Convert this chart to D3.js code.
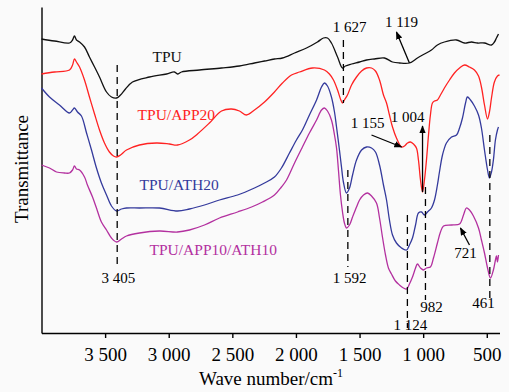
<!DOCTYPE html>
<html>
<head>
<meta charset="utf-8">
<script src="https://cdn.jsdelivr.net/npm/d3@7"></script>
<style>
  body { margin: 0; background: #fafafa; }
  text { font-family: "Liberation Serif", "Times New Roman", serif; }
</style>
</head>
<body>
<script>
// FTIR spectra, [wavenumber (cm-1), transmittance (a.u.)]
var tpu = [[4000,294],[3898,292],[3780,290],[3756,293],[3741,297],[3725,293],[3701,291],[3662,286],[3623,276],
  [3583,266],[3544,256],[3489,241],[3450,236],[3410,235],[3379,238],[3340,244],[3285,251],[3151,256],[3017,259],
  [2955,261],[2931,259],[2900,261],[2758,263],[2585,265],[2444,267],[2326,270],[2247,272],[2169,274],[2106,275],
  [2011,280],[1917,285],[1831,291],[1784,295],[1752,295],[1721,290],[1673,276],[1634,265],[1611,267],[1563,269],
  [1500,271],[1445,273],[1383,274],[1304,275],[1241,271],[1186,270],[1108,270],[1045,275],[990,279],[935,283],
  [888,288],[833,291],[738,293],[675,290],[620,291],[573,290],[518,290],[463,288],[440,291],[424,295],[408,299]];

var app20 = [[4000,259],[3898,261],[3780,263],[3756,268],[3741,274],[3725,271],[3701,266],[3662,253],[3623,236],
  [3583,219],[3544,203],[3505,190],[3466,181],[3434,177],[3410,176],[3379,178],[3332,183],[3230,188],[3096,190],
  [2994,189],[2931,188],[2837,193],[2774,199],[2680,210],[2585,222],[2507,224],[2444,222],[2389,218],[2326,223],
  [2247,231],[2169,241],[2106,250],[2035,258],[1972,261],[1870,265],[1776,263],[1737,259],[1705,253],[1673,243],
  [1650,234],[1634,230],[1619,233],[1595,238],[1563,248],[1524,256],[1484,262],[1445,265],[1406,265],[1375,262],
  [1343,253],[1312,238],[1288,230],[1265,218],[1241,206],[1210,195],[1170,186],[1147,187],[1123,190],[1100,191],
  [1076,189],[1053,185],[1037,173],[1021,153],[1005,141],[990,153],[974,173],[958,198],[943,218],[927,230],
  [911,232],[888,233],[864,238],[833,245],[793,253],[754,260],[714,265],[675,268],[636,266],[597,263],[565,257],
  [542,246],[518,228],[494,214],[479,221],[463,235],[440,251],[416,257],[400,258]];

var ath20 = [[4000,245],[3937,236],[3859,228],[3780,220],[3756,223],[3741,225],[3717,221],[3686,217],[3646,200],
  [3607,183],[3568,165],[3529,150],[3489,138],[3450,127],[3410,122],[3371,124],[3332,125],[3230,125],[3073,125],
  [2931,122],[2837,124],[2719,128],[2601,133],[2459,138],[2326,145],[2247,150],[2169,156],[2114,165],[2051,180],
  [1996,193],[1949,203],[1894,218],[1838,233],[1799,246],[1776,250],[1752,247],[1721,236],[1697,221],[1681,206],
  [1658,183],[1642,166],[1627,151],[1603,140],[1579,145],[1555,158],[1524,173],[1484,183],[1445,186],[1406,185],
  [1375,181],[1343,168],[1312,148],[1288,133],[1265,113],[1241,98],[1210,90],[1170,85],[1131,83],[1108,88],
  [1084,95],[1060,108],[1037,120],[1013,121],[990,118],[966,121],[935,125],[911,133],[888,148],[872,161],
  [848,178],[817,190],[777,196],[738,198],[714,205],[691,215],[667,230],[652,236],[628,233],[597,227],[565,218],
  [542,205],[518,183],[494,163],[479,155],[463,161],[448,173],[432,193],[416,203],[408,206]];

var app10ath10 = [[4000,168],[3937,165],[3882,161],[3820,160],[3780,160],[3756,163],[3741,167],[3725,164],[3701,163],
  [3662,156],[3639,148],[3599,136],[3568,125],[3529,111],[3489,103],[3450,95],[3410,91],[3371,94],[3332,97],
  [3230,100],[3073,102],[2931,101],[2837,103],[2719,108],[2601,115],[2459,121],[2349,126],[2263,131],[2169,138],
  [2114,146],[2074,153],[2011,170],[1949,186],[1894,200],[1838,213],[1799,223],[1776,225],[1752,222],[1721,213],
  [1697,198],[1681,185],[1666,163],[1650,138],[1634,121],[1619,110],[1603,105],[1579,108],[1555,116],[1524,126],
  [1500,133],[1469,138],[1437,140],[1406,137],[1367,130],[1343,115],[1320,96],[1296,78],[1273,65],[1249,59],
  [1218,52],[1186,48],[1155,45],[1131,44],[1108,49],[1084,56],[1060,65],[1045,69],[1021,65],[998,63],[974,65],
  [943,66],[919,75],[888,90],[864,101],[840,107],[777,108],[714,109],[683,118],[660,125],[636,123],[605,117],
  [565,105],[542,93],[518,80],[494,65],[471,55],[448,63],[432,73],[424,77],[416,71],[408,78]];

var seriesNames = ["TPU", "TPU/APP20", "TPU/ATH20", "TPU/APP10/ATH10"];
var xTicks = [3500, 3000, 2500, 2000, 1500, 1000, 500];

// dashed peak markers: wavenumber, label, top and bottom (a.u.)
var peakWave  = [3405, 1627, 1592, 1124, 982, 476];
var peakLabel = ["3 405", "1 627", "1 592", "1 124", "982", "461"];
var peakTop   = [268, 293, 163, 118, 146, 198];
var peakBot   = [65, 230, 66, 5, 33, 33];

// arrow markers: label, [from], [to]
var arrowLabel = ["1 119", "1 155", "1 004", "721"];
var arrowFrom  = [[1108,270], [1406,198], [1005,141], [636,88]];
var arrowTo    = [[1210,301], [1170,186], [1005,207], [707,105]];

var width = 509, height = 392;
var svg = d3.select("body").append("svg")
    .attr("width", width)
    .attr("height", height);

svg.append("rect").attr("width", width).attr("height", height).attr("fill", "#fafafa");

var x = d3.scaleLinear().domain([4000, 400]).range([41.5, 499.5]);
var y = d3.scaleLinear().domain([0, 326]).range([333, 7]);

var colors = d3.scaleOrdinal()
    .domain(seriesNames)
    .range(["#111111", "#ff2222", "#343a9c", "#b3309f"]);

var fmt = d3.formatLocale({decimal: ".", thousands: " ", grouping: [3], currency: ["", ""]}).format(",");

// axes
var xAxis = svg.append("g")
    .attr("transform", "translate(0,333)")
    .call(d3.axisBottom(x).tickValues(xTicks).tickFormat(fmt).tickSize(5).tickPadding(10).tickSizeOuter(0));
xAxis.selectAll("path, line").attr("stroke", "#000").attr("stroke-width", 1.4);
xAxis.selectAll("text").attr("font-size", "19px").attr("fill", "#000")
    .style("font-family", "'Liberation Serif', serif");

var yAxis = svg.append("g")
    .attr("transform", "translate(41.5,0)")
    .call(d3.axisLeft(y).tickValues([]).tickSizeOuter(0));
yAxis.select("path").attr("stroke", "#000").attr("stroke-width", 1.4);

// spectra
var line = d3.line()
    .x(function(d) { return x(d[0]); })
    .y(function(d) { return y(d[1]); })
    .curve(d3.curveCatmullRom.alpha(0.5));

var allSeries = [tpu, app20, ath20, app10ath10];
svg.append("g").selectAll("path")
    .data(allSeries)
    .enter()
    .append("path")
    .attr("d", line)
    .attr("fill", "none")
    .attr("stroke", function(d, i) { return colors(seriesNames[i]); })
    .attr("stroke-width", 1.3);

// series labels
var labelPos = [[3128,271], [3245,213], [3230,143], [3151,78]];
svg.append("g").selectAll("text")
    .data(seriesNames)
    .enter()
    .append("text")
    .attr("x", function(d, i) { return x(labelPos[i][0]); })
    .attr("y", function(d, i) { return y(labelPos[i][1]); })
    .attr("fill", function(d) { return colors(d); })
    .attr("font-size", "15.5px")
    .text(function(d) { return d; });

// dashed peak lines
svg.append("g").selectAll("line")
    .data(peakWave)
    .enter()
    .append("line")
    .attr("x1", function(d) { return x(d); })
    .attr("x2", function(d) { return x(d); })
    .attr("y1", function(d, i) { return y(peakTop[i]); })
    .attr("y2", function(d, i) { return y(peakBot[i]); })
    .attr("stroke", "#000")
    .attr("stroke-width", 1.3)
    .attr("stroke-dasharray", "7,5");

var peakLabelPos = [[3395,50], [1579,301], [1579,50], [1100,3], [935,21], [526,25]];
svg.append("g").selectAll("text")
    .data(peakLabel)
    .enter()
    .append("text")
    .attr("x", function(d, i) { return x(peakLabelPos[i][0]); })
    .attr("y", function(d, i) { return y(peakLabelPos[i][1]); })
    .attr("text-anchor", "middle")
    .attr("font-size", "15px")
    .text(function(d) { return d; });

// arrows
svg.append("defs").append("marker")
    .attr("id", "head")
    .attr("viewBox", "0 0 10 10")
    .attr("refX", 9).attr("refY", 5)
    .attr("markerWidth", 8).attr("markerHeight", 8)
    .attr("markerUnits", "userSpaceOnUse")
    .attr("orient", "auto")
    .append("path")
    .attr("d", "M0,1 L10,5 L0,9 Z")
    .attr("fill", "#000");

svg.append("g").selectAll("line")
    .data(arrowLabel)
    .enter()
    .append("line")
    .attr("x1", function(d, i) { return x(arrowFrom[i][0]); })
    .attr("y1", function(d, i) { return y(arrowFrom[i][1]); })
    .attr("x2", function(d, i) { return x(arrowTo[i][0]); })
    .attr("y2", function(d, i) { return y(arrowTo[i][1]); })
    .attr("stroke", "#000")
    .attr("stroke-width", 1.3)
    .attr("marker-end", "url(#head)");

var arrowLabelPos = [[1170,306], [1437,205], [1123,211], [667,75]];
svg.append("g").selectAll("text")
    .data(arrowLabel)
    .enter()
    .append("text")
    .attr("x", function(d, i) { return x(arrowLabelPos[i][0]); })
    .attr("y", function(d, i) { return y(arrowLabelPos[i][1]); })
    .attr("text-anchor", "middle")
    .attr("font-size", "15px")
    .text(function(d) { return d; });

// axis titles
var xt = svg.append("text")
    .attr("x", 271).attr("y", 385)
    .attr("text-anchor", "middle")
    .attr("font-size", "19px");
xt.append("tspan").text("Wave number/cm");
xt.append("tspan").attr("dy", -8).attr("font-size", "12px").text("-1");

svg.append("text")
    .attr("transform", "translate(28,169) rotate(-90)")
    .attr("text-anchor", "middle")
    .attr("font-size", "19px")
    .text("Transmittance");
</script>
</body>
</html>
